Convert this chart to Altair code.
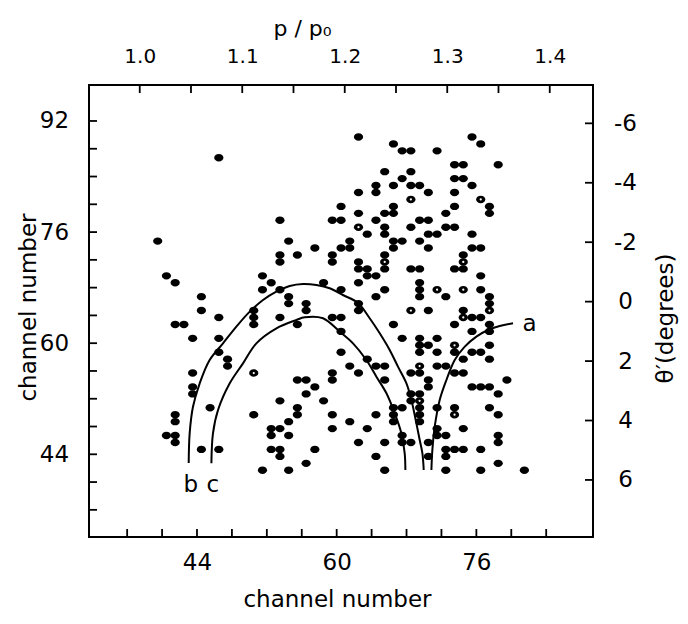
import altair as alt
import pandas as pd

FONT = "DejaVu Sans"
W, H = 504, 452

# ---------------- axis ranges / ticks (read from the frame) ----------------
ch_x_domain = [31.63, 89.36]      # channel number, bottom axis
ch_y_domain = [32.09, 97.18]      # channel number, left axis
p_domain = [0.9505, 1.4422]       # p / p0, top axis
theta_domain = [7.92, -7.29]      # theta' (degrees), right axis (bottom -> top)

bottom_ticks = [36, 40, 44, 48, 52, 56, 60, 64, 68, 72, 76, 80, 84]
left_ticks = [36, 40, 44, 48, 52, 56, 60, 64, 68, 72, 76, 80, 84, 88, 92]
top_ticks = [1.0, 1.05, 1.1, 1.15, 1.2, 1.25, 1.3, 1.35, 1.4]
right_ticks = [-6, -4, -2, 0, 2, 4, 6]
bottom_labels = [44, 60, 76]
left_labels = [44, 60, 76, 92]
top_labels = [1.0, 1.1, 1.2, 1.3, 1.4]
right_labels = [-6, -4, -2, 0, 2, 4, 6]

# ---------------- scatter points (channel x, channel y) ----------------
left_pts = [
    (39.5, 74.7), (40.5, 69.7), (41.5, 68.7), (44.5, 66.7), (44.5, 64.7), (41.5, 62.7),
    (42.5, 62.7), (43.5, 60.7), (43.5, 55.7), (43.5, 53.7), (43.5, 52.7), (45.5, 50.7),
    (41.5, 49.7), (41.5, 48.7), (40.5, 46.7), (41.5, 46.7), (41.5, 45.7), (44.5, 44.7),
    (46.5, 44.7), (46.5, 86.7), (46.5, 63.7), (46.5, 60.7), (46.5, 58.7), (47.5, 57.7),
    (47.5, 56.7),
]
mid_pts = [
    (60.5, 79.7), (53.5, 77.7), (59.5, 77.7), (60.5, 77.7), (54.5, 74.7), (61.5, 74.7),
    (57.5, 73.7), (60.5, 73.7), (61.5, 73.7), (53.5, 72.7), (53.5, 71.7), (55.5, 72.7),
    (59.5, 72.7), (59.5, 71.7), (51.5, 69.7), (52.5, 68.7), (51.5, 67.7), (58.5, 68.7),
    (60.5, 67.7), (53.5, 67.7), (54.5, 66.7), (54.5, 65.7), (50.5, 64.7), (50.5, 63.7),
    (50.5, 62.7), (56.5, 65.7), (56.5, 64.7), (53.5, 63.7), (55.5, 62.7), (59.5, 63.7),
    (60.5, 63.7), (60.5, 61.7), (60.5, 58.7), (61.5, 56.7), (59.5, 55.7), (59.5, 54.7),
    (55.5, 54.7), (56.5, 54.7), (57.5, 53.7), (56.5, 52.7), (58.5, 51.7), (53.5, 51.7),
    (50.5, 55.7), (50.5, 49.7), (55.5, 50.7), (55.5, 49.7), (54.5, 48.7), (59.5, 49.7),
    (59.5, 47.7), (61.5, 48.7), (52.5, 47.7), (53.5, 47.7), (52.5, 46.7), (54.5, 46.7),
    (52.5, 44.7), (53.5, 44.7), (53.5, 43.7), (57.5, 44.7), (56.5, 42.7), (51.5, 41.7),
    (54.5, 41.7),
]
upper_right_pts = [
    (62.5, 89.7), (66.5, 88.7), (67.5, 87.7), (68.5, 87.7), (71.5, 87.7), (75.5, 89.7),
    (76.5, 88.7), (73.5, 85.7), (74.5, 85.7), (78.5, 85.7), (65.5, 84.7), (68.5, 84.7),
    (67.5, 83.7), (73.5, 83.7), (74.5, 83.7), (64.5, 82.7), (64.5, 81.7), (66.5, 82.7),
    (68.5, 82.7), (69.5, 82.7), (70.5, 81.7), (62.5, 81.7), (73.5, 81.7), (75.5, 82.7),
    (68.5, 80.7), (76.5, 80.7), (77.5, 79.7), (77.5, 78.7), (66.5, 79.7), (66.5, 78.7),
    (65.5, 78.7), (62.5, 78.7), (72.5, 78.7), (73.5, 79.7), (69.5, 77.7), (70.5, 77.7),
    (64.5, 77.7), (62.5, 76.7), (65.5, 76.7), (63.5, 75.7), (65.5, 75.7), (68.5, 76.7),
    (70.5, 75.7), (71.5, 75.7), (72.5, 76.7), (73.5, 76.7), (75.5, 75.7), (66.5, 74.7),
    (66.5, 73.7), (67.5, 74.7), (69.5, 74.7), (70.5, 73.7), (75.5, 73.7), (76.5, 73.7),
    (65.5, 72.7), (65.5, 71.7), (65.5, 70.7), (62.5, 71.7), (62.5, 70.7), (63.5, 70.7),
    (63.5, 69.7), (64.5, 69.7), (68.5, 70.7), (69.5, 70.7), (73.5, 70.7), (74.5, 72.7),
    (74.5, 71.7), (74.5, 70.7), (76.5, 69.7),
]
lower_right_pts = [
    (62.5, 68.7), (65.5, 67.7), (64.5, 66.7), (69.5, 68.7), (69.5, 67.7), (69.5, 66.7),
    (71.5, 67.7), (72.5, 66.7), (74.5, 67.7), (76.5, 67.7), (77.5, 66.7), (77.5, 65.7),
    (77.5, 64.7), (68.5, 64.7), (70.5, 64.7), (74.5, 64.7), (74.5, 63.7), (75.5, 63.7),
    (76.5, 63.7), (62.5, 65.7), (62.5, 64.7), (66.5, 62.7), (73.5, 62.7), (77.5, 62.7),
    (77.5, 61.7), (75.5, 61.7), (67.5, 60.7), (69.5, 60.7), (69.5, 59.7), (69.5, 58.7),
    (70.5, 59.7), (71.5, 60.7), (73.5, 59.7), (73.5, 58.7), (75.5, 58.7), (76.5, 58.7),
    (77.5, 59.7), (77.5, 57.7), (71.5, 58.7), (74.5, 57.7), (63.5, 57.7), (64.5, 56.7),
    (65.5, 56.7), (62.5, 55.7), (68.5, 55.7), (69.5, 55.7), (69.5, 56.7), (71.5, 56.7),
    (72.5, 56.7), (73.5, 55.7), (74.5, 55.7), (65.5, 54.7), (70.5, 54.7), (70.5, 53.7),
    (75.5, 53.7), (76.5, 53.7), (77.5, 53.7), (79.5, 54.7), (78.5, 52.7), (68.5, 52.7),
    (69.5, 52.7), (68.5, 51.7), (69.5, 51.7), (66.5, 50.7), (67.5, 50.7), (66.5, 49.7),
    (66.5, 48.7), (69.5, 50.7), (69.5, 49.7), (69.5, 48.7), (64.5, 49.7), (71.5, 50.7),
    (73.5, 50.7), (73.5, 49.7), (77.5, 50.7), (78.5, 49.7), (63.5, 47.7), (65.5, 45.7),
    (62.5, 45.7), (64.5, 43.7), (65.5, 41.7), (67.5, 46.7), (67.5, 45.7), (68.5, 45.7),
    (71.5, 47.7), (71.5, 46.7), (70.5, 45.7), (72.5, 46.7), (72.5, 44.7), (73.5, 44.7),
    (74.5, 44.7), (72.5, 43.7), (76.5, 44.7), (74.5, 47.7), (72.5, 41.7), (70.5, 43.7),
    (78.5, 46.7), (78.5, 45.7), (78.5, 42.7), (76.5, 41.7), (81.5, 41.7),
]
# points printed with a small white centre
hollow_pts = [
    (50.5, 55.7), (68.5, 80.7), (76.5, 80.7), (62.5, 76.7), (65.5, 71.7), (74.5, 71.7),
    (71.5, 67.7), (74.5, 67.7), (77.5, 64.7), (68.5, 64.7), (74.5, 63.7), (73.5, 59.7),
    (69.5, 56.7), (73.5, 49.7), (69.5, 51.7),
]

# ---------------- curves a, b, c ----------------
curve_b_x = [43.05, 43.16, 43.54, 44.31, 45.45, 46.98, 48.51, 50.04, 51.56, 53.09, 54.62, 56.14, 57.68,
             59.2, 60.72, 62.44, 63.78, 64.93, 66.07, 67.02, 67.99, 68.56, 69.13, 69.51, 69.82, 69.97]
curve_b_y = [42.76, 47.02, 50.85, 54.22, 57.58, 59.98, 62.38, 64.54, 66.22, 67.42, 68.24, 68.53, 68.38,
             67.91, 66.94, 65.79, 63.59, 61.42, 59.02, 56.62, 54.22, 51.82, 48.46, 46.06, 44.14, 41.74]
curve_c_x = [45.65, 45.83, 46.41, 47.75, 49.27, 50.8, 53.1, 55.39, 56.34, 58.43, 60.35, 61.87, 63.4,
             64.55, 65.7, 66.65, 67.41, 67.79, 67.87]
curve_c_y = [42.7, 47.02, 50.38, 54.22, 57.1, 59.98, 62.14, 63.34, 63.73, 63.59, 61.66, 59.98, 57.58,
             55.18, 52.78, 49.9, 47.02, 44.14, 41.74]
curve_a_x = [70.85, 70.96, 71.23, 71.8, 72.57, 73.52, 74.67, 76.0, 77.33, 78.67, 80.2]
curve_a_y = [41.74, 44.62, 47.97, 51.82, 54.7, 57.58, 59.5, 60.94, 61.9, 62.47, 62.86]

curve_labels = ["a", "b", "c"]
curve_label_x = [82.1, 43.3, 45.8]
curve_label_y = [61.8, 38.6, 38.6]

# ---------------- build tables ----------------
pts_df = pd.DataFrame(left_pts + mid_pts + upper_right_pts + lower_right_pts, columns=["x", "y"])
hol_df = pd.DataFrame(hollow_pts, columns=["x", "y"])
rows = []
for name, xs_, ys_ in [("b", curve_b_x, curve_b_y), ("c", curve_c_x, curve_c_y), ("a", curve_a_x, curve_a_y)]:
    for i, (cx, cy) in enumerate(zip(xs_, ys_)):
        rows.append({"curve": name, "i": i, "x": cx, "y": cy})
curve_df = pd.DataFrame(rows)
lab_df = pd.DataFrame({"t": curve_labels, "x": curve_label_x, "y": curve_label_y})

# ---------------- scales and axes ----------------
xs = alt.Scale(domain=ch_x_domain, nice=False, zero=False)
ys = alt.Scale(domain=ch_y_domain, nice=False, zero=False)
ps = alt.Scale(domain=p_domain, nice=False, zero=False)
ts = alt.Scale(domain=theta_domain, nice=False, zero=False)

ax_b = alt.Axis(orient="bottom", values=bottom_labels, ticks=False, tickSize=0, domain=False, grid=False,
                labelPadding=25, labelBaseline="middle", labelFontSize=23, labelFont=FONT,
                title="channel number", titleFontSize=23, titleX=248, titleY=62,
                titleBaseline="middle", titleAlign="center")
ax_l = alt.Axis(orient="left", values=left_labels, ticks=False, tickSize=0, domain=False, grid=False,
                labelPadding=35, labelAlign="center", labelBaseline="middle", labelFontSize=23, labelFont=FONT,
                title="channel number", titleFontSize=23, titleX=-61, titleY=222, titleAngle=270,
                titleBaseline="middle", titleAlign="center")
ax_t = alt.Axis(orient="top", values=top_labels, format=".1f", ticks=False, tickSize=0, domain=False,
                grid=False, labelPadding=29, labelBaseline="middle", labelFontSize=20, labelFont=FONT,
                title="p / p\u2080", titleFontSize=22, titleX=213, titleY=-57,
                titleBaseline="middle", titleAlign="center")
ax_r = alt.Axis(orient="right", values=right_labels, labelExpr="toString(datum.value)", ticks=False,
                tickSize=0, domain=False, grid=False, labelPadding=32, labelAlign="center",
                labelBaseline="middle", labelFontSize=23, labelFont=FONT,
                title="\u03b8\u2032(degrees)", titleFontSize=23, titleX=72, titleY=233, titleAngle=270,
                titleBaseline="middle", titleAlign="center")

ELLIPSE = "M-1,0A1,0.8,0,1,1,1,0A1,0.8,0,1,1,-1,0Z"

# ---------------- layer A: channel scales ----------------
ticks_bottom = alt.Chart(pd.DataFrame({"v": bottom_ticks})).mark_rule(color="black", strokeWidth=1.8).encode(
    x=alt.X("v:Q", scale=xs, axis=ax_b), y=alt.value(H), y2=alt.value(H - 8))
ticks_left = alt.Chart(pd.DataFrame({"v": left_ticks})).mark_rule(color="black", strokeWidth=1.8).encode(
    y=alt.Y("v:Q", scale=ys, axis=ax_l), x=alt.value(0), x2=alt.value(8))

curves = alt.Chart(curve_df).mark_line(color="black", strokeWidth=2, interpolate="catmull-rom").encode(
    x=alt.X("x:Q", scale=xs, axis=ax_b), y=alt.Y("y:Q", scale=ys, axis=ax_l),
    detail="curve:N", order="i:Q")

points = alt.Chart(pts_df).mark_point(shape=ELLIPSE, filled=True, size=85, color="black",
                                       opacity=1, strokeWidth=0).encode(
    x=alt.X("x:Q", scale=xs, axis=ax_b), y=alt.Y("y:Q", scale=ys, axis=ax_l))

holes = alt.Chart(hol_df).mark_point(shape="circle", filled=True, size=5, color="white",
                                      opacity=1, strokeWidth=0).encode(
    x=alt.X("x:Q", scale=xs, axis=ax_b), y=alt.Y("y:Q", scale=ys, axis=ax_l))

labels = alt.Chart(lab_df).mark_text(font=FONT, fontSize=23, color="black", baseline="alphabetic",
                                      align="center").encode(
    x=alt.X("x:Q", scale=xs, axis=ax_b), y=alt.Y("y:Q", scale=ys, axis=ax_l), text="t:N")

layer_a = alt.layer(ticks_bottom, ticks_left, curves, points, holes, labels)

# ---------------- layer B: p/p0 and theta' scales ----------------
ticks_top = alt.Chart(pd.DataFrame({"v": top_ticks})).mark_rule(color="black", strokeWidth=1.8).encode(
    x=alt.X("v:Q", scale=ps, axis=ax_t), y=alt.value(0), y2=alt.value(8))
ticks_right = alt.Chart(pd.DataFrame({"v": right_ticks})).mark_rule(color="black", strokeWidth=1.8).encode(
    y=alt.Y("v:Q", scale=ts, axis=ax_r), x=alt.value(W - 8), x2=alt.value(W))

layer_b = alt.layer(ticks_top, ticks_right)

chart = alt.layer(layer_a, layer_b).resolve_scale(
    x="independent", y="independent"
).properties(
    width=W, height=H,
    padding={"left": 81, "top": 77, "right": 87, "bottom": 74},
    autosize=alt.AutoSizeParams(type="none"),
).configure_view(
    stroke="black", strokeWidth=2
).configure_axis(
    labelFont=FONT, titleFont=FONT, labelColor="black", titleColor="black", titleFontWeight="normal"
)

chart.save("out.html", embed_options={"renderer": "svg", "actions": False})
